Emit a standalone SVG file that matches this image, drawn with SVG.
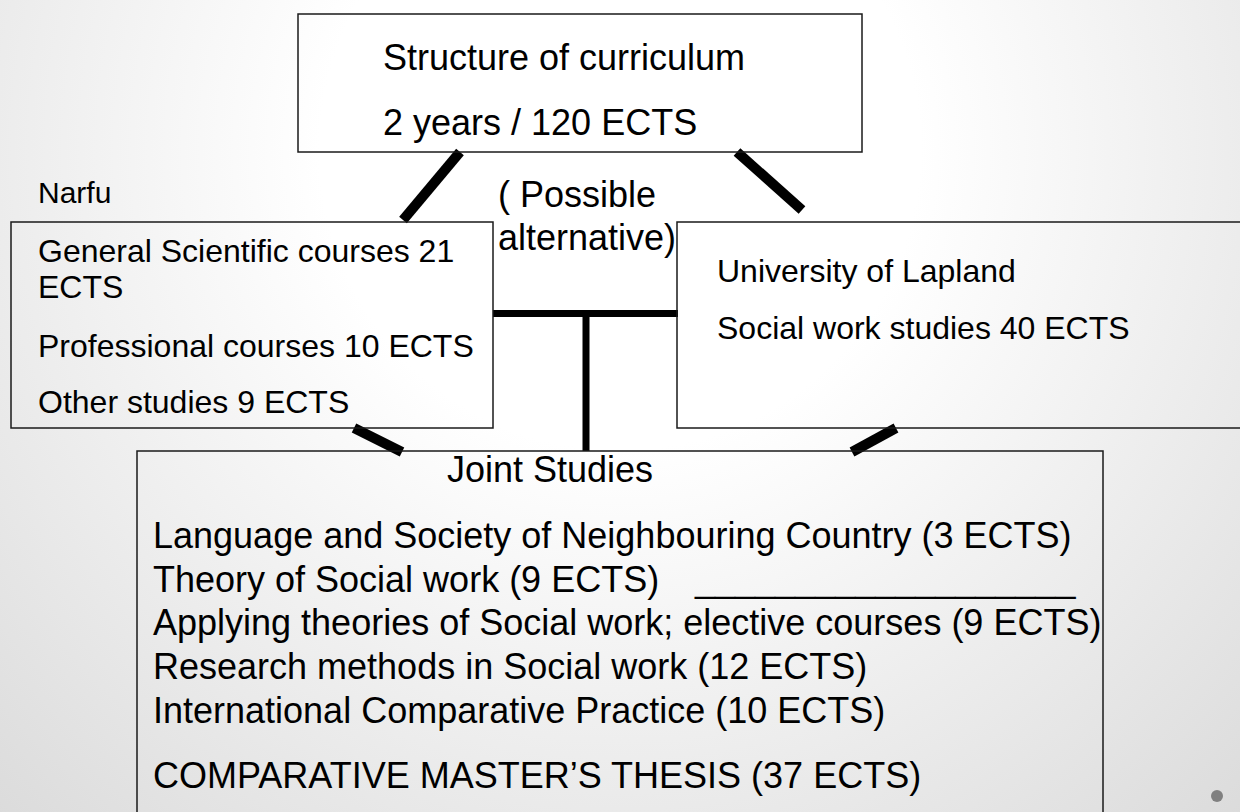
<svg xmlns="http://www.w3.org/2000/svg" width="1240" height="812" viewBox="0 0 1240 812">
<defs>
<radialGradient id="bg" cx="620" cy="150" r="1000" gradientUnits="userSpaceOnUse">
<stop offset="0.3" stop-color="#ffffff"/>
<stop offset="1" stop-color="#d6d6d6"/>
</radialGradient>
<style>
.box{fill:none;stroke:#1a1a1a;stroke-width:1.5}
.t{font-family:"Liberation Sans",Arial,sans-serif;fill:#000}
.f36{font-size:36px}
.f32{font-size:32px}
.con{stroke:#000;fill:none}
.thick{stroke-width:10}
.bar{stroke-width:7}
</style>
</defs>
<rect x="0" y="0" width="1240" height="812" fill="url(#bg)"/>
<g id="connectors">
<line class="con thick" x1="460" y1="152" x2="403" y2="220"/>
<line class="con thick" x1="737" y1="152" x2="802" y2="210"/>
<line class="con thick" x1="354" y1="428" x2="402" y2="452"/>
<line class="con thick" x1="852" y1="452" x2="896" y2="428"/>
<line class="con bar" x1="493" y1="313.5" x2="678" y2="313.5"/>
<line class="con bar" x1="586" y1="313" x2="586" y2="451"/>
</g>
<g id="top">
<rect class="box" x="298" y="14" width="564" height="138"/>
<text class="t f36" x="383" y="70">Structure of curriculum</text>
<text class="t f36" x="383" y="135">2 years / 120 ECTS</text>
</g>
<g id="narfu-label">
<text class="t" style="font-size:30px" x="38" y="203">Narfu</text>
</g>
<g id="alternative">
<text class="t f36" x="498" y="207">( Possible</text>
<text class="t f36" x="498" y="250">alternative)</text>
</g>
<g id="narfu">
<rect class="box" x="11" y="222" width="482" height="206"/>
<text class="t f32" x="38" y="262">General Scientific courses 21</text>
<text class="t f32" x="38" y="298">ECTS</text>
<text class="t f32" x="38" y="357">Professional courses 10 ECTS</text>
<text class="t f32" x="38" y="413">Other studies 9 ECTS</text>
</g>
<g id="lapland">
<rect class="box" x="677" y="222" width="580" height="206"/>
<text class="t f32" x="717" y="282">University of Lapland</text>
<text class="t f32" x="717" y="339">Social work studies 40 ECTS</text>
</g>
<g id="joint">
<rect class="box" x="137" y="451" width="966" height="380"/>
<text class="t f36" x="447" y="482">Joint Studies</text>
<text class="t f36" x="153" y="548">Language and Society of Neighbouring Country (3 ECTS)</text>
<text class="t f36" x="153" y="592">Theory of Social work (9 ECTS)<tspan x="695">___________________</tspan></text>
<text class="t f36" x="153" y="635">Applying theories of Social work; elective courses (9 ECTS)</text>
<text class="t f36" x="153" y="679">Research methods in Social work (12 ECTS)</text>
<text class="t f36" x="153" y="723">International Comparative Practice (10 ECTS)</text>
<text class="t f36" x="153" y="788">COMPARATIVE MASTER’S THESIS (37 ECTS)</text>
</g>
<circle cx="1217" cy="796" r="6" fill="#808080"/>
</svg>
